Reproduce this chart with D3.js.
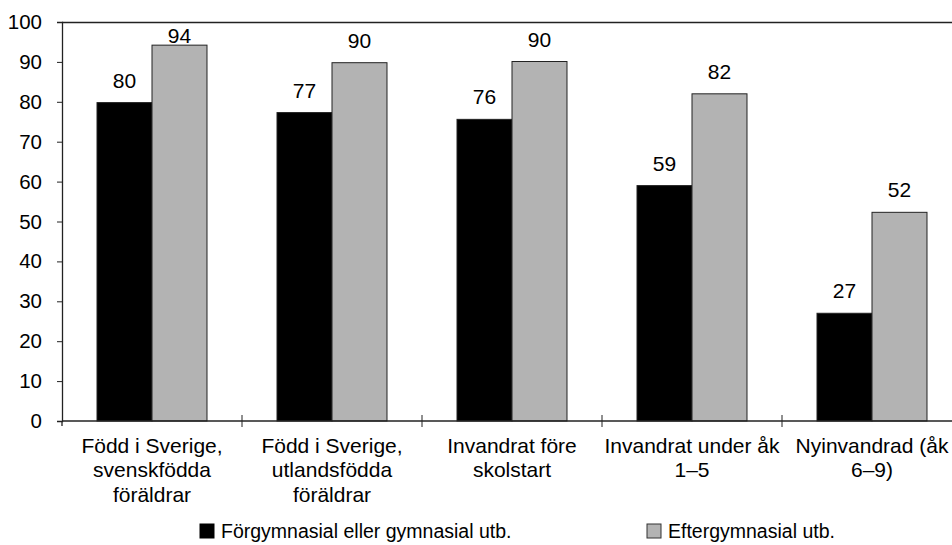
<!DOCTYPE html>
<html><head><meta charset="utf-8">
<script src="https://cdn.jsdelivr.net/npm/d3@7"></script>
<style>body{margin:0;background:#fff}svg{display:block}text{font-family:"Liberation Sans",Arial,sans-serif;fill:#000}</style>
</head><body><svg id="c" width="952" height="545"></svg>
<script>
const categories = ["Född i Sverige, svenskfödda föräldrar","Född i Sverige, utlandsfödda föräldrar","Invandrat före skolstart","Invandrat under åk 1–5","Nyinvandrad (åk 6–9)"];
const categoryLines = [["Född i Sverige,","svenskfödda","föräldrar"],["Född i Sverige,","utlandsfödda","föräldrar"],["Invandrat före","skolstart"],["Invandrat under åk","1–5"],["Nyinvandrad (åk","6–9)"]];
const seriesNames = ["Förgymnasial eller gymnasial utb.","Eftergymnasial utb."];
const forgymnasial = [79.8, 77.3, 75.6, 59, 27];
const eftergymnasial = [94.2, 89.8, 90.1, 82, 52.3];
const yTicks = [0,10,20,30,40,50,60,70,80,90,100];
const colors = ["#000000","#b3b3b3"];

(function(){
const svg = d3.select("#c");
const pL = 62, pT = 22, pB = 421, pR = 962;
const x = d3.scaleBand().domain(categories).range([pL,pR]).paddingInner(0.389).paddingOuter(0.1945);
const xs = d3.scaleBand().domain(seriesNames).range([0,x.bandwidth()]);
const y = d3.scaleLinear().domain([0,100]).range([pB,pT]);
const step = x.step();

svg.append("line").attr("x1",pL).attr("x2",952).attr("y1",pT+0.5).attr("y2",pT+0.5).attr("stroke","#222").attr("stroke-width",1.5);

const ya = svg.append("g").attr("transform",`translate(${pL},0)`).call(d3.axisLeft(y).tickValues(yTicks).tickSize(5).tickPadding(15));
ya.select(".domain").attr("stroke","#222").attr("stroke-width",1.3);
ya.selectAll(".tick line").attr("stroke","#222");
ya.selectAll("text").style("font-size","20.5px").style("font-family","Liberation Sans, Arial, sans-serif").attr("fill","#000");
svg.append("line").attr("x1",pL).attr("x2",pL).attr("y1",pB).attr("y2",pB+5).attr("stroke","#222").attr("stroke-width",1.3);

const data = categories.map((c,i)=>({c, vals:[forgymnasial[i], eftergymnasial[i]]}));
const g = svg.append("g").selectAll("g").data(data).join("g").attr("transform",d=>`translate(${x(d.c)},0)`);
g.selectAll("rect").data(d=>d.vals.map((v,j)=>({v,s:seriesNames[j],j}))).join("rect")
  .attr("x",d=>xs(d.s)).attr("width",xs.bandwidth()).attr("y",d=>y(d.v)).attr("height",d=>pB-y(d.v))
  .attr("fill",d=>colors[d.j]).attr("stroke","#222").attr("stroke-width",1);
g.selectAll("text").data(d=>d.vals.map((v,j)=>({v,s:seriesNames[j],j}))).join("text")
  .attr("x",d=>xs(d.s)+xs.bandwidth()/2).attr("y",d=>Math.max(y(d.v)-15,43))
  .attr("text-anchor","middle").style("font-size","21px").text(d=>Math.round(d.v));

svg.append("line").attr("x1",pL).attr("x2",952).attr("y1",pB).attr("y2",pB).attr("stroke","#222").attr("stroke-width",1.5);
svg.append("g").selectAll("line").data(categories.slice(1)).join("line")
  .attr("x1",d=>x(d)-step*0.1945).attr("x2",d=>x(d)-step*0.1945).attr("y1",pB-6).attr("y2",pB+6).attr("stroke","#222");
const xl = svg.append("g").selectAll("text").data(categories).join("text")
  .attr("x",d=>x(d)+x.bandwidth()/2).attr("y",453).attr("text-anchor","middle").style("font-size","21px");
xl.selectAll("tspan").data((d,i)=>categoryLines[i]).join("tspan").attr("x",function(){return this.parentNode.getAttribute("x");})
  .attr("dy",(d,i)=>i===0?0:24.3).text(d=>d);

const legX = [200, 647];
const lg = svg.append("g").selectAll("g").data(seriesNames).join("g").attr("transform",(d,i)=>`translate(${legX[i]},524)`);
lg.append("rect").attr("width",14).attr("height",14).attr("fill",(d,i)=>colors[i]).attr("stroke",(d,i)=>i?"#333":"#000");
lg.append("text").attr("x",21).attr("y",14).style("font-size","19.5px").text(d=>d);
})();
</script></body></html>
